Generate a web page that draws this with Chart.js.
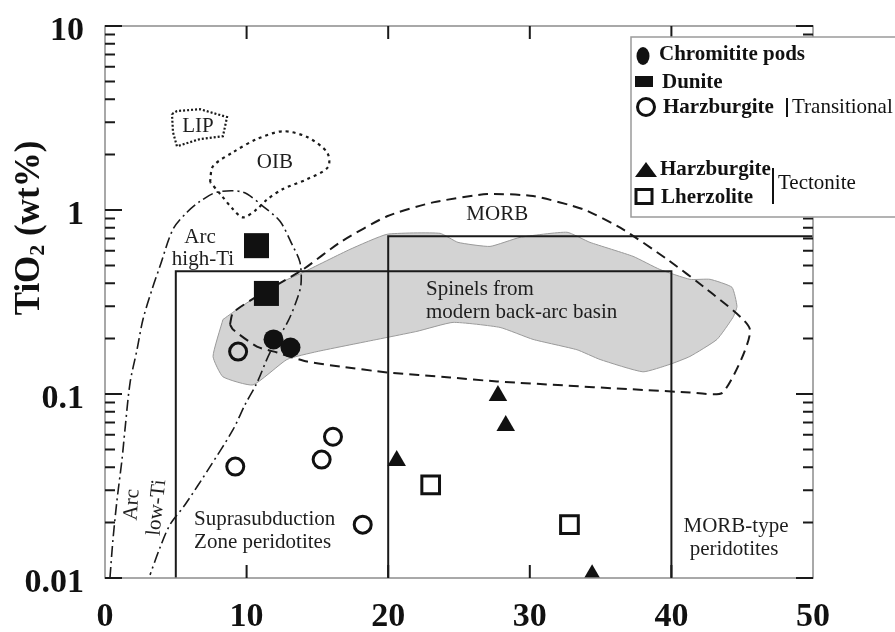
<!DOCTYPE html>
<html lang="en">
<head>
<meta charset="UTF-8">
<title>TiO2 vs Al2O3 – spinel discrimination</title>
<script src="https://cdn.jsdelivr.net/npm/chart.js"></script>
<style>
  html, body { margin: 0; padding: 0; background: #fff; }
</style>
</head>
<body>
<canvas id="myChart" width="895" height="632"></canvas>
<script>
// axis ticks
const xTickValues = [0, 10, 20, 30, 40, 50];
const yTickValues = [0.01, 0.1, 1, 10];

// samples (x = Al2O3, y = TiO2)
const chromititePods = [[11.9, 0.198], [13.1, 0.179]];
const dunite = [[10.7, 0.64], [11.4, 0.352]];
const harzburgiteTrans = [[9.4, 0.17], [9.2, 0.0403], [15.3, 0.044], [16.1, 0.0586], [18.2, 0.0195]];
const harzburgiteTect = [[20.6, 0.0434], [27.75, 0.098], [28.3, 0.0673], [34.4, 0.0104]];
const lherzolite = [[23.0, 0.0321], [32.8, 0.0195]];

// fields
const sszBox = [[5, 0.01], [5, 0.464], [40, 0.464], [40, 0.01]];
const morbTypeBox = [[20, 0.01], [20, 0.72], [50, 0.72]];
const morbField = [[8.83, 0.239], [9.04, 0.277], [10.73, 0.339], [13.98, 0.475], [16.6, 0.667], [19.92, 0.925],
  [23.17, 1.10], [27.0, 1.22], [30.23, 1.19], [33.76, 1.01], [36.58, 0.785], [39.69, 0.54], [42.51, 0.37],
  [45.55, 0.224], [43.64, 0.102], [41.31, 0.102], [27.68, 0.117], [24.36, 0.123], [19.92, 0.131],
  [16.6, 0.141], [14.27, 0.15], [12.15, 0.168], [10.73, 0.181], [9.04, 0.224], [8.83, 0.239]];
const arcField = [[0.35, 0.01], [0.56, 0.0161], [0.85, 0.0266], [1.2, 0.044], [1.41, 0.064], [1.77, 0.115],
  [2.26, 0.174], [2.68, 0.254], [3.32, 0.37], [3.88, 0.494], [4.8, 0.785], [5.79, 0.972], [6.71, 1.114],
  [7.91, 1.25], [9.75, 1.25], [11.16, 1.047], [12.36, 0.868], [13.21, 0.65], [13.77, 0.519], [13.84, 0.394],
  [13.56, 0.327], [12.92, 0.248], [11.65, 0.168], [10.73, 0.115], [9.89, 0.0875], [9.04, 0.064],
  [7.42, 0.0403], [5.65, 0.025], [4.59, 0.0195], [3.88, 0.0146], [3.18, 0.0104]];
const oibField = [[7.42, 1.42], [7.63, 1.73], [9.04, 2.06], [10.73, 2.43], [12.57, 2.68], [14.27, 2.49],
  [15.68, 2.06], [15.75, 1.71], [14.27, 1.47], [12.57, 1.3], [11.44, 1.14], [10.73, 1.01], [9.75, 0.912],
  [9.04, 1.01], [8.26, 1.19], [7.42, 1.42]];
const lipField = [[4.73, 3.32], [5.08, 3.45], [6.71, 3.53], [8.62, 3.2], [8.33, 2.52], [6.71, 2.43],
  [5.08, 2.22], [4.8, 2.65], [4.73, 3.32]];
const backArcField = [[8.33, 0.254], [9.32, 0.288], [11.86, 0.385], [13.98, 0.458], [17.3, 0.611],
  [19.92, 0.738], [23.66, 0.747], [24.93, 0.667], [27.19, 0.634], [29.31, 0.71], [32.63, 0.757],
  [34.25, 0.667], [37.29, 0.56], [39.19, 0.475], [41.31, 0.42], [42.73, 0.42], [44.28, 0.38], [44.63, 0.299],
  [44.35, 0.261], [43.22, 0.198], [41.31, 0.16], [39.9, 0.145], [37.99, 0.132], [34.96, 0.154],
  [33.33, 0.174], [30.23, 0.198], [27.9, 0.23], [24.58, 0.245], [22.03, 0.219], [18.5, 0.193],
  [14.97, 0.17], [12.85, 0.154], [10.45, 0.112], [8.33, 0.124], [7.63, 0.16], [8.33, 0.254]];

// field labels: text, x, y, rotation
const fieldLabels = [
  ['LIP', 6.57, 2.86, 0], ['OIB', 12.0, 1.82, 0], ['Arc', 6.71, 0.71, 0], ['high-Ti', 6.92, 0.54, 0],
  ['MORB', 27.7, 0.948, 0], ['Spinels from', 22.67, 0.37, 0, 'left'], ['modern back-arc basin', 22.67, 0.277, 0, 'left'],
  ['Suprasubduction', 6.29, 0.0207, 0, 'left'], ['Zone peridotites', 6.29, 0.0155, 0, 'left'],
  ['MORB-type', 44.56, 0.019, 0], ['peridotites', 44.42, 0.0142, 0],
  ['Arc', 1.91, 0.025, -86], ['low-Ti', 3.67, 0.0241, -84]
];

const SERIF = '"Liberation Serif", "Times New Roman", serif';
const pts = a => a.map(([x, y]) => ({ x, y }));

const fieldPlugin = {
  id: 'fieldPlugin',
  afterDatasetsDraw(chart) {
    const { ctx, chartArea: a, scales: { x, y } } = chart;
    ctx.save();
    // labels
    ctx.fillStyle = '#1e1e1e';
    ctx.font = '21px ' + SERIF;
    ctx.textBaseline = 'middle';
    fieldLabels.forEach(([t, vx, vy, rot, align]) => {
      ctx.save();
      ctx.translate(x.getPixelForValue(vx), y.getPixelForValue(vy));
      ctx.rotate(rot * Math.PI / 180);
      ctx.textAlign = align || 'center';
      ctx.fillText(t, 0, 0);
      ctx.restore();
    });
    // frame
    ctx.strokeStyle = '#8c8c8c';
    ctx.lineWidth = 1.5;
    ctx.strokeRect(a.left, a.top, a.right - a.left, a.bottom - a.top);
    // inward ticks
    ctx.strokeStyle = '#1a1a1a';
    ctx.lineWidth = 2;
    ctx.beginPath();
    for (let d = -2; d <= 1; d++) {
      for (let m = 1; m <= 9; m++) {
        const v = m * Math.pow(10, d);
        if (v > 10.0001) break;
        const py = y.getPixelForValue(v);
        const len = m === 1 ? 17 : 10;
        ctx.moveTo(a.left, py); ctx.lineTo(a.left + len, py);
        ctx.moveTo(a.right, py); ctx.lineTo(a.right - len, py);
      }
    }
    [10, 20, 30, 40].forEach(v => {
      const px = x.getPixelForValue(v);
      ctx.moveTo(px, a.top); ctx.lineTo(px, a.top + 13);
      ctx.moveTo(px, a.bottom); ctx.lineTo(px, a.bottom - 13);
    });
    ctx.stroke();
    ctx.restore();
  },
  afterDraw(chart) {
    const { ctx } = chart;
    ctx.save();
    // y axis title
    ctx.translate(30, 228);
    ctx.rotate(-Math.PI / 2);
    ctx.fillStyle = '#111';
    ctx.textBaseline = 'middle';
    const big = 'bold 35px ' + SERIF, small = 'bold 22px ' + SERIF;
    ctx.font = big; const w1 = ctx.measureText('TiO').width; const w3 = ctx.measureText(' (wt%)').width;
    ctx.font = small; const w2 = ctx.measureText('2').width;
    let cx = -(w1 + w2 + w3) / 2;
    ctx.textAlign = 'left';
    ctx.font = big; ctx.fillText('TiO', cx, 0); cx += w1;
    ctx.font = small; ctx.fillText('2', cx, 8); cx += w2;
    ctx.font = big; ctx.fillText(' (wt%)', cx, 0);
    ctx.restore();

    // legend box
    ctx.save();
    ctx.fillStyle = '#fff';
    ctx.fillRect(631, 37, 270, 180);
    ctx.strokeStyle = '#9a9a9a';
    ctx.lineWidth = 1.5;
    ctx.strokeRect(631, 37, 270, 180);
    ctx.fillStyle = '#111';
    ctx.strokeStyle = '#111';
    // markers
    ctx.beginPath(); ctx.ellipse(643, 56, 6.5, 9, 0, 0, 2 * Math.PI); ctx.fill();
    ctx.fillRect(635, 76, 18, 11);
    ctx.lineWidth = 3;
    ctx.beginPath(); ctx.arc(646, 107, 8.5, 0, 2 * Math.PI); ctx.stroke();
    ctx.beginPath(); ctx.moveTo(646, 162); ctx.lineTo(657, 177); ctx.lineTo(635, 177); ctx.closePath(); ctx.fill();
    ctx.strokeRect(636, 189.5, 16, 14);
    // texts
    ctx.textBaseline = 'middle';
    ctx.textAlign = 'left';
    ctx.font = 'bold 21px ' + SERIF;
    ctx.fillText('Chromitite pods', 659, 55);
    ctx.fillText('Dunite', 662, 83);
    ctx.fillText('Harzburgite', 663, 108);
    ctx.fillText('Harzburgite', 660, 170);
    ctx.fillText('Lherzolite', 661, 198);
    ctx.font = '21px ' + SERIF;
    ctx.fillText('Transitional', 792, 107);
    ctx.fillText('Tectonite', 778, 183);
    ctx.lineWidth = 2;
    ctx.beginPath();
    ctx.moveTo(787, 98); ctx.lineTo(787, 117);
    ctx.moveTo(773, 168); ctx.lineTo(773, 204);
    ctx.stroke();
    ctx.restore();
  }
};

const marker = (data, style, radius, filled) => ({
  data: pts(data),
  pointStyle: style,
  pointRadius: radius,
  pointBackgroundColor: filled ? '#111' : 'rgba(0,0,0,0)',
  pointBorderColor: '#111',
  pointBorderWidth: filled ? 0 : 3
});
const field = (data, dash, width, tension) => ({
  data: pts(data),
  showLine: true,
  pointRadius: 0,
  borderColor: '#1a1a1a',
  borderWidth: width,
  borderDash: dash,
  tension: tension,
  fill: false
});

const ctx = document.getElementById('myChart').getContext('2d');
const myChart = new Chart(ctx, {
  type: 'scatter',
  data: {
    datasets: [
      marker(chromititePods, 'circle', 10, true),
      marker(dunite, 'rect', 17.7, true),
      marker(harzburgiteTrans, 'circle', 8.5, false),
      marker(harzburgiteTect, 'triangle', 10.7, true),
      marker(lherzolite, 'rect', 12.5, false),
      field(sszBox, [], 2, 0),
      field(morbTypeBox, [], 2, 0),
      field(morbField, [10, 6], 2, 0.2),
      field(arcField, [11, 4, 2, 4], 1.6, 0.3),
      field(oibField, [3, 4], 2.2, 0.3),
      field(lipField, [2, 2], 2.2, 0),
      {
        data: pts(backArcField),
        showLine: true,
        pointRadius: 0,
        borderColor: '#9a9a9a',
        borderWidth: 1,
        backgroundColor: '#d3d3d3',
        tension: 0.15,
        fill: 'shape'
      }
    ]
  },
  options: {
    responsive: false,
    animation: false,
    layout: { padding: { top: 26, right: 82, left: 0, bottom: 0 } },
    plugins: { legend: { display: false }, tooltip: { enabled: false } },
    scales: {
      x: {
        type: 'linear',
        min: 0, max: 50,
        afterFit: s => { s.height = 54; s.paddingLeft = 0; s.paddingRight = 0; },
        afterBuildTicks: s => { s.ticks = xTickValues.map(v => ({ value: v })); },
        grid: { display: false, drawTicks: false },
        border: { display: false },
        ticks: { color: '#111', padding: 19, font: { family: SERIF, size: 34, weight: 'bold' } }
      },
      y: {
        type: 'logarithmic',
        min: 0.01, max: 10,
        afterFit: s => { s.width = 105; s.paddingTop = 0; s.paddingBottom = 0; },
        afterBuildTicks: s => { s.ticks = yTickValues.map(v => ({ value: v })); },
        grid: { display: false, drawTicks: false },
        border: { display: false },
        ticks: { color: '#111', padding: 21, labelOffset: 5, font: { family: SERIF, size: 34, weight: 'bold' },
                 callback: v => String(v) }
      }
    }
  },
  plugins: [fieldPlugin]
});
</script>
</body>
</html>
